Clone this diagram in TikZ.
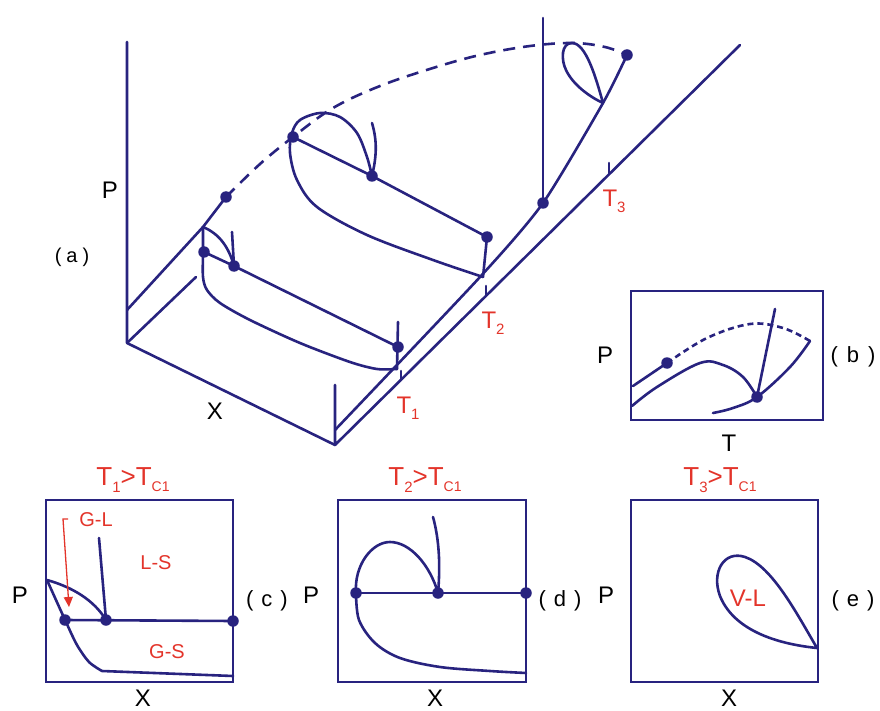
\documentclass[tikz,border=0pt]{standalone}
\usepackage{fontspec}
\setmainfont{Liberation Sans}
\usetikzlibrary{arrows.meta}
\definecolor{navy}{HTML}{28237F}
\definecolor{redlab}{HTML}{E3342A}
\newcommand\subs[1]{\raisebox{-0.5ex}{\fontsize{15}{15}\selectfont #1}}
\newcommand\subt[1]{\raisebox{-0.45ex}{\fontsize{14}{14}\selectfont #1}}
\newcommand\plabel[2]{(\hspace{#1}#2\hspace{#1})}
\begin{document}
\begin{tikzpicture}[x=1pt,y=-1pt,
  ln/.style={navy,line width=2.6pt,line cap=round,line join=round},
  dsh/.style={ln,line cap=butt,dash pattern=on 12pt off 8pt},
  dshs/.style={ln,line cap=butt,dash pattern=on 6pt off 4pt},
  dot/.style={circle,fill=navy,inner sep=0pt,minimum size=11.5pt},
  frame/.style={navy,line width=2.6pt},
  lab/.style={text=black,font=\fontsize{24}{24}\selectfont,inner sep=0pt},
  plab/.style={text=black,font=\fontsize{22}{22}\selectfont,inner sep=0pt},
  rlab/.style={text=redlab,font=\fontsize{24}{24}\selectfont,inner sep=0pt},
  rtit/.style={text=redlab,font=\fontsize{26}{26}\selectfont,inner sep=0pt},
  rsm/.style={text=redlab,font=\fontsize{20}{20}\selectfont,inner sep=0pt}]
\useasboundingbox (0,0) rectangle (880,711);

% ---------------- (a) 3D diagram ----------------
\coordinate (O) at (127,343);
\coordinate (Ptop) at (127,42);
\coordinate (Xend) at (335,445);
\coordinate (Xtop) at (335,385);
\coordinate (Tend) at (740,45);
\coordinate (Tback) at (196,277);
\coordinate (B0) at (127,310);
\coordinate (B1) at (203,227);
\draw[ln] (Ptop) -- (O) -- (Xend);
\draw[ln] (O) -- (Tback);
\draw[ln] (Xtop) -- (Xend) -- (Tend);
\node[dot] (c1) at (226,197) {};
\draw[ln] (B0) -- (B1) -- (c1.center);
% front P-T line (X=1)
\node[dot] (f3) at (543,203) {};
\node[dot] (c2) at (627,55) {};
\coordinate (f0) at (335,430);
\coordinate (f3t) at (603,103);
\draw[ln] plot[smooth,tension=0.4] coordinates {(f0) (480,277) (f3.center) (f3t) (c2.center)};
% critical dashed curve
\draw[dsh] plot[smooth,tension=0.6] coordinates {(c1.center) (260,164) (293,137) (333,108) (380,86) (433,68) (480,55) (530,46) (573,43) (605,47) (c2.center)};
% ticks
\draw[ln] (401,371) -- (401,380);
\draw[ln] (486,286) -- (486,296);
\draw[ln] (609,163) -- (609,174);
\node[rlab] at (408,408) {T\subs{1}};
\node[rlab] at (493,323) {T\subs{2}};
\node[rlab] at (614,201) {T\subs{3}};
\node[lab] (Pa) at (110,190) {P};
\node[lab] (Xa) at (215,411) {X};
\node[plab,font=\fontsize{20}{20}\selectfont] (la) at (72,257) {\plabel{5pt}{a}};

% T1 section
\node[dot] (a1) at (204,252) {};
\node[dot] (a2) at (234,266) {};
\node[dot] (a3) at (398,347) {};
\draw[ln] plot[smooth,tension=0.5] coordinates {(B1) (203,252) (203,277) (207,290) (220,303) (250,320) (300,343) (350,362) (377,369) (397,369)};
\draw[ln] (397,369) -- (398,322);
\draw[ln] (B1) .. controls (220,234) and (229,248) .. (a2.center);
\draw[ln] (232,232) -- (a2.center);
\draw[ln] (a1.center) -- (a2.center) -- (a3.center);

% T2 section
\node[dot] (b1) at (293,137) {};
\node[dot] (b2) at (372,176) {};
\node[dot] (b3) at (487,237) {};
\draw[ln] plot[smooth,tension=0.55] coordinates {(483,277) (433,260) (367,235) (317,207) (297,180) (290,153) (292,133) (300,120) (320,113) (340,117) (357,133) (367,157) (b2.center)};
\draw[ln] (b3.center) -- (483,277);
\draw[ln] (b1.center) -- (b2.center) -- (b3.center);
\draw[ln] (b2.center) .. controls (377,155) and (377,140) .. (372,123);

% T3 section
\draw[ln] (543,18) -- (f3.center);
\draw[ln] (f3t) .. controls (596,78) and (586,43) .. (572,43) .. controls (561,43) and (561,60) .. (566,70) .. controls (573,85) and (590,97) .. (f3t);

% ---------------- (b) ----------------
\draw[frame] (631,291) rectangle (823,420);
\node[dot] (pb1) at (667,363) {};
\node[dot] (pb2) at (757,397) {};
\coordinate (pbc) at (810,341);
\draw[ln] (633,386) -- (pb1.center);
\draw[dshs] plot[smooth,tension=0.6] coordinates {(pb1.center) (707,338) (750,324) (783,328) (pbc)};
\draw[ln] plot[smooth,tension=0.6] coordinates {(pbc) (790,367) (pb2.center) (733,408) (713,413)};
\draw[ln] plot[smooth,tension=0.6] coordinates {(632,406) (657,387) (700,363) (723,365) (743,377) (pb2.center)};
\draw[ln] (pb2.center) -- (775,309);
\node[lab] at (605,355) {P};
\node[lab] at (729,443) {T};
\node[plab] at (853,357) {\plabel{9pt}{b}};

% ---------------- (c) ----------------
\draw[frame] (46,500) rectangle (233,682);
\node[dot] (c1a) at (65,620) {};
\node[dot] (c1b) at (106,620) {};
\node[dot] (c1c) at (233,621) {};
\coordinate (cp) at (47,580);
\draw[ln] (cp) .. controls (72,587) and (94,600) .. (c1b.center);
\draw[ln] plot[smooth,tension=0.5] coordinates {(cp) (56,600) (66,622) (77,645) (89,662) (102,671)} -- (233,676);
\draw[ln] (c1a.center) -- (c1c.center);
\draw[ln] (c1b.center) -- (99,538);
\draw[redlab,line width=1.3pt,-{Triangle[length=10pt,width=9pt]}] (68,519) -- (63,519) -- (69,607);
\node[rsm] at (96,520) {G-L};
\node[rsm] at (156,563) {L-S};
\node[rsm] at (167,652) {G-S};
\node[rtit] at (133,480) {T\subs{1}>T\subt{C1}};
\node[lab] at (20,595) {P};
\node[lab] at (143,698) {X};
\node[plab] at (267,601) {\plabel{8pt}{c}};

% ---------------- (d) ----------------
\draw[frame] (338,500) rectangle (526,682);
\node[dot] (d1) at (356,593) {};
\node[dot] (d2) at (438,593) {};
\node[dot] (d3) at (526,593) {};
\draw[ln] (d1.center) .. controls (354,565) and (372,542) .. (390,542) .. controls (410,542) and (430,565) .. (d2.center);
\draw[ln] plot[smooth,tension=0.55] coordinates {(d1.center) (359,620) (375,643) (400,658) (440,667) (490,671) (526,673)};
\draw[ln] (d1.center) -- (d3.center);
\draw[ln] (d2.center) .. controls (441,560) and (438,535) .. (433,517);
\node[rtit] at (425,480) {T\subs{2}>T\subt{C1}};
\node[lab] at (311,595) {P};
\node[lab] at (435,698) {X};
\node[plab] at (560,601) {\plabel{8pt}{d}};

% ---------------- (e) ----------------
\draw[frame] (631,500) rectangle (818,682);
\coordinate (e0) at (817,648);
\draw[ln] (e0) .. controls (797,614) and (772,566) .. (745,557) .. controls (724,550) and (711,572) .. (720,596) .. controls (732,626) and (768,643) .. (e0);
\node[rsm,font=\fontsize{24}{24}\selectfont] at (748,598) {V-L};
\node[rtit] at (720,480) {T\subs{3}>T\subt{C1}};
\node[lab] at (606,595) {P};
\node[lab] at (729,698) {X};
\node[plab] at (853,601) {\plabel{8pt}{e}};
\end{tikzpicture}
\end{document}
